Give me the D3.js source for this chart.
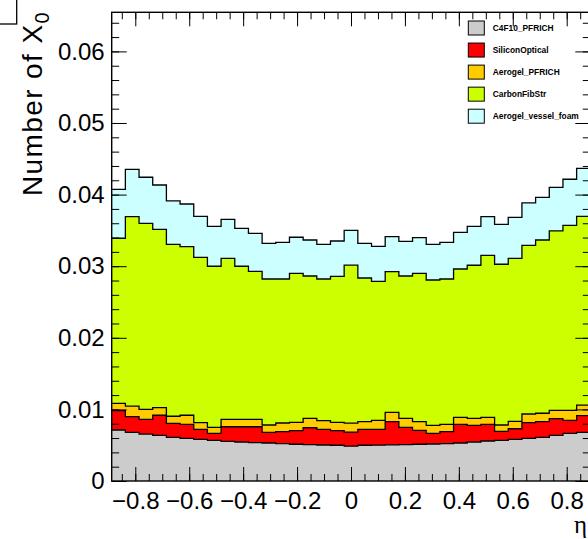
<!DOCTYPE html>
<html>
<head>
<meta charset="utf-8">
<script src="https://cdn.jsdelivr.net/npm/d3@7"></script>
<style>
	body { margin: 0; background: #fff; }
	svg { display: block; }
	text { font-family: "Liberation Sans", Arial, Helvetica, sans-serif; }
</style>
</head>
<body>
<script>
(function() {

"use strict";

// eta binning of the stack (35 bins)
const ETA_LO = -0.8875;
const ETA_HI = 0.8875;

const LAYERS = [
	"C4F10_PFRICH",
	"SiliconOptical",
	"Aerogel_PFRICH",
	"CarbonFibStr",
	"Aerogel_vessel_foam",
];

// per-bin material, X/X0
const C4F10_PFRICH = [0.00712, 0.00680, 0.00656, 0.00638, 0.00610, 0.00596, 0.00582, 0.00568, 0.00554, 0.00545, 0.00535, 0.00531, 0.00521, 0.00513, 0.00507, 0.00503, 0.00499, 0.00486, 0.00499, 0.00501, 0.00505, 0.00509, 0.00513, 0.00517, 0.00521, 0.00531, 0.00545, 0.00559, 0.00568, 0.00582, 0.00596, 0.00610, 0.00638, 0.00666, 0.00680];
const SILICON_OPTICAL = [0.00270, 0.00218, 0.00206, 0.00280, 0.00196, 0.00196, 0.00140, 0.00098, 0.00204, 0.00213, 0.00223, 0.00149, 0.00168, 0.00190, 0.00237, 0.00219, 0.00204, 0.00198, 0.00223, 0.00221, 0.00323, 0.00241, 0.00195, 0.00149, 0.00168, 0.00261, 0.00233, 0.00233, 0.00126, 0.00148, 0.00218, 0.00218, 0.00232, 0.00182, 0.00232];
const AEROGEL_PFRICH = [0.00103, 0.00149, 0.00139, 0.00106, 0.00098, 0.00126, 0.00092, 0.00084, 0.00104, 0.00104, 0.00104, 0.00102, 0.00121, 0.00117, 0.00132, 0.00120, 0.00117, 0.00123, 0.00106, 0.00126, 0.00131, 0.00126, 0.00120, 0.00112, 0.00103, 0.00098, 0.00098, 0.00098, 0.00088, 0.00104, 0.00122, 0.00118, 0.00117, 0.00139, 0.00149];
const CARBON_FIB_STR = [0.02305, 0.02644, 0.02598, 0.02491, 0.02402, 0.02354, 0.02310, 0.02249, 0.02248, 0.02137, 0.02067, 0.02039, 0.02011, 0.02081, 0.01987, 0.01979, 0.02039, 0.02207, 0.02007, 0.01941, 0.01964, 0.01987, 0.02073, 0.02029, 0.02029, 0.02071, 0.02137, 0.02262, 0.02245, 0.02276, 0.02356, 0.02420, 0.02505, 0.02584, 0.02636];
const AEROGEL_VESSEL_FOAM = [0.00684, 0.00662, 0.00643, 0.00619, 0.00605, 0.00597, 0.00573, 0.00558, 0.00545, 0.00530, 0.00530, 0.00499, 0.00513, 0.00503, 0.00503, 0.00485, 0.00493, 0.00487, 0.00485, 0.00489, 0.00489, 0.00485, 0.00497, 0.00499, 0.00513, 0.00512, 0.00544, 0.00539, 0.00558, 0.00573, 0.00591, 0.00596, 0.00610, 0.00643, 0.00670];

const X_TICKS = [-0.8, -0.6, -0.4, -0.2, 0, 0.2, 0.4, 0.6, 0.8];
const Y_TICKS = [0, 0.01, 0.02, 0.03, 0.04, 0.05, 0.06];
const Y_MAX = 0.06546;

const COLORS = {
	"C4F10_PFRICH":        "#cccccc",
	"SiliconOptical":      "#ff0000",
	"Aerogel_PFRICH":      "#ffcc00",
	"CarbonFibStr":        "#ccff00",
	"Aerogel_vessel_foam": "#ccffff",
};

const SERIES = [C4F10_PFRICH, SILICON_OPTICAL, AEROGEL_PFRICH, CARBON_FIB_STR, AEROGEL_VESSEL_FOAM];

const width = 588, height = 539;
const frame = {left: 111.7, right: 590.3, top: 12.3, bottom: 481};

let svg = d3.select("body").append("svg")
	.attr("width", width)
	.attr("height", height);

let nBins = C4F10_PFRICH.length;
let binWidth = (ETA_HI - ETA_LO) / nBins;

let x = d3.scaleLinear().domain([ETA_LO, ETA_HI]).range([frame.left, frame.right]);
let y = d3.scaleLinear().domain([0, Y_MAX]).range([frame.bottom, frame.top]);

let rows = C4F10_PFRICH.map((_, i) => {
	let row = {};
	LAYERS.forEach((key, k) => row[key] = SERIES[k][i]);
	return row;
});

let stacked = d3.stack().keys(LAYERS)(rows);

// step points on bin edges, last bin repeated at the upper edge
function steps(layer) {
	let pts = layer.map((d, i) => ({eta: ETA_LO + i * binWidth, y0: d[0], y1: d[1]}));
	let last = layer[layer.length - 1];
	pts.push({eta: ETA_HI, y0: last[0], y1: last[1]});
	return pts;
}

let area = d3.area()
	.curve(d3.curveStepAfter)
	.x(d => x(d.eta))
	.y0(d => y(d.y0))
	.y1(d => y(d.y1));

let top = d3.line()
	.curve(d3.curveStepAfter)
	.x(d => x(d.eta))
	.y(d => y(d.y1));

let chart = svg.append("g").attr("class", "chart");

chart.selectAll("path.fill")
	.data(stacked)
	.join("path")
		.attr("class", "fill")
		.attr("fill", d => COLORS[d.key])
		.attr("d", d => area(steps(d)));

chart.selectAll("path.outline")
	.data(stacked)
	.join("path")
		.attr("class", "outline")
		.attr("fill", "none")
		.attr("stroke", "#000")
		.attr("stroke-width", 1.3)
		.attr("d", d => top(steps(d)));

// axes, ROOT style: ticks inside the frame on all four sides
let fmtX = d => d === 0 ? "0" : d3.format(".1f")(d);
let fmtY = d => d === 0 ? "0" : d3.format(".2f")(d);
let minorX = d3.range(-0.85, 0.851, 0.05);
let minorY = d3.range(0, Y_MAX, 0.002);

function axis(g, gen) {
	g.call(gen);
	g.select(".domain").remove();
	g.selectAll("line").attr("stroke", "#000");
	g.selectAll("text")
		.attr("fill", "#000")
		.style("font-size", "24px")
		.style("font-family", "'Liberation Sans', Arial, sans-serif");
	return g;
}

axis(svg.append("g").attr("transform", `translate(0, ${frame.bottom})`),
	d3.axisBottom(x).tickValues(minorX).tickSize(-7).tickFormat(""));
axis(svg.append("g").attr("transform", `translate(0, ${frame.bottom})`),
	d3.axisBottom(x).tickValues(X_TICKS).tickSize(-14).tickPadding(11).tickFormat(fmtX));
axis(svg.append("g").attr("transform", `translate(0, ${frame.top})`),
	d3.axisTop(x).tickValues(minorX).tickSize(-7).tickFormat(""));
axis(svg.append("g").attr("transform", `translate(0, ${frame.top})`),
	d3.axisTop(x).tickValues(X_TICKS).tickSize(-14).tickFormat(""));

axis(svg.append("g").attr("transform", `translate(${frame.left}, 0)`),
	d3.axisLeft(y).tickValues(minorY).tickSize(-7.5).tickFormat(""));
axis(svg.append("g").attr("transform", `translate(${frame.left}, 0)`),
	d3.axisLeft(y).tickValues(Y_TICKS).tickSize(-15).tickPadding(7).tickFormat(fmtY));
axis(svg.append("g").attr("transform", `translate(${frame.right}, 0)`),
	d3.axisRight(y).tickValues(minorY).tickSize(-7.5).tickFormat(""));
axis(svg.append("g").attr("transform", `translate(${frame.right}, 0)`),
	d3.axisRight(y).tickValues(Y_TICKS).tickSize(-15).tickFormat(""));

svg.append("rect")
	.attr("x", frame.left)
	.attr("y", frame.top)
	.attr("width", frame.right - frame.left)
	.attr("height", frame.bottom - frame.top)
	.attr("fill", "none")
	.attr("stroke", "#000")
	.attr("stroke-width", 1.4);

// axis titles
let ytitle = svg.append("text")
	.attr("transform", `translate(42, 11) rotate(-90)`)
	.attr("text-anchor", "end")
	.style("font-size", "28px")
	.style("letter-spacing", "1.4px");
ytitle.append("tspan").text("Number of X");
ytitle.append("tspan").attr("dy", 7).style("font-size", "20px").text("0");

svg.append("text")
	.attr("x", 587)
	.attr("y", 533)
	.attr("text-anchor", "end")
	.style("font-family", "'Liberation Serif', 'DejaVu Serif', serif")
	.style("font-size", "25px")
	.text("η");

// cropped title pave in the corner
svg.append("rect")
	.attr("x", -5)
	.attr("y", -5)
	.attr("width", 21.7)
	.attr("height", 29)
	.attr("fill", "#fff")
	.attr("stroke", "#000")
	.attr("stroke-width", 1.3);

// legend
let legend = svg.append("g").attr("class", "legend");
let rowY = d3.scalePoint().domain(LAYERS).range([28, 116.2]);

let item = legend.selectAll("g")
	.data(LAYERS)
	.join("g")
		.attr("transform", d => `translate(468.3, ${rowY(d)})`);

item.append("rect")
	.attr("x", 0)
	.attr("y", -7)
	.attr("width", 16)
	.attr("height", 14)
	.attr("fill", d => COLORS[d])
	.attr("stroke", "#000")
	.attr("stroke-width", 1);

item.append("text")
	.attr("x", 24.4)
	.attr("y", 3)
	.style("font-size", "8.4px")
	.style("font-weight", "bold")
	.text(d => d);

})();
</script>
</body>
</html>
